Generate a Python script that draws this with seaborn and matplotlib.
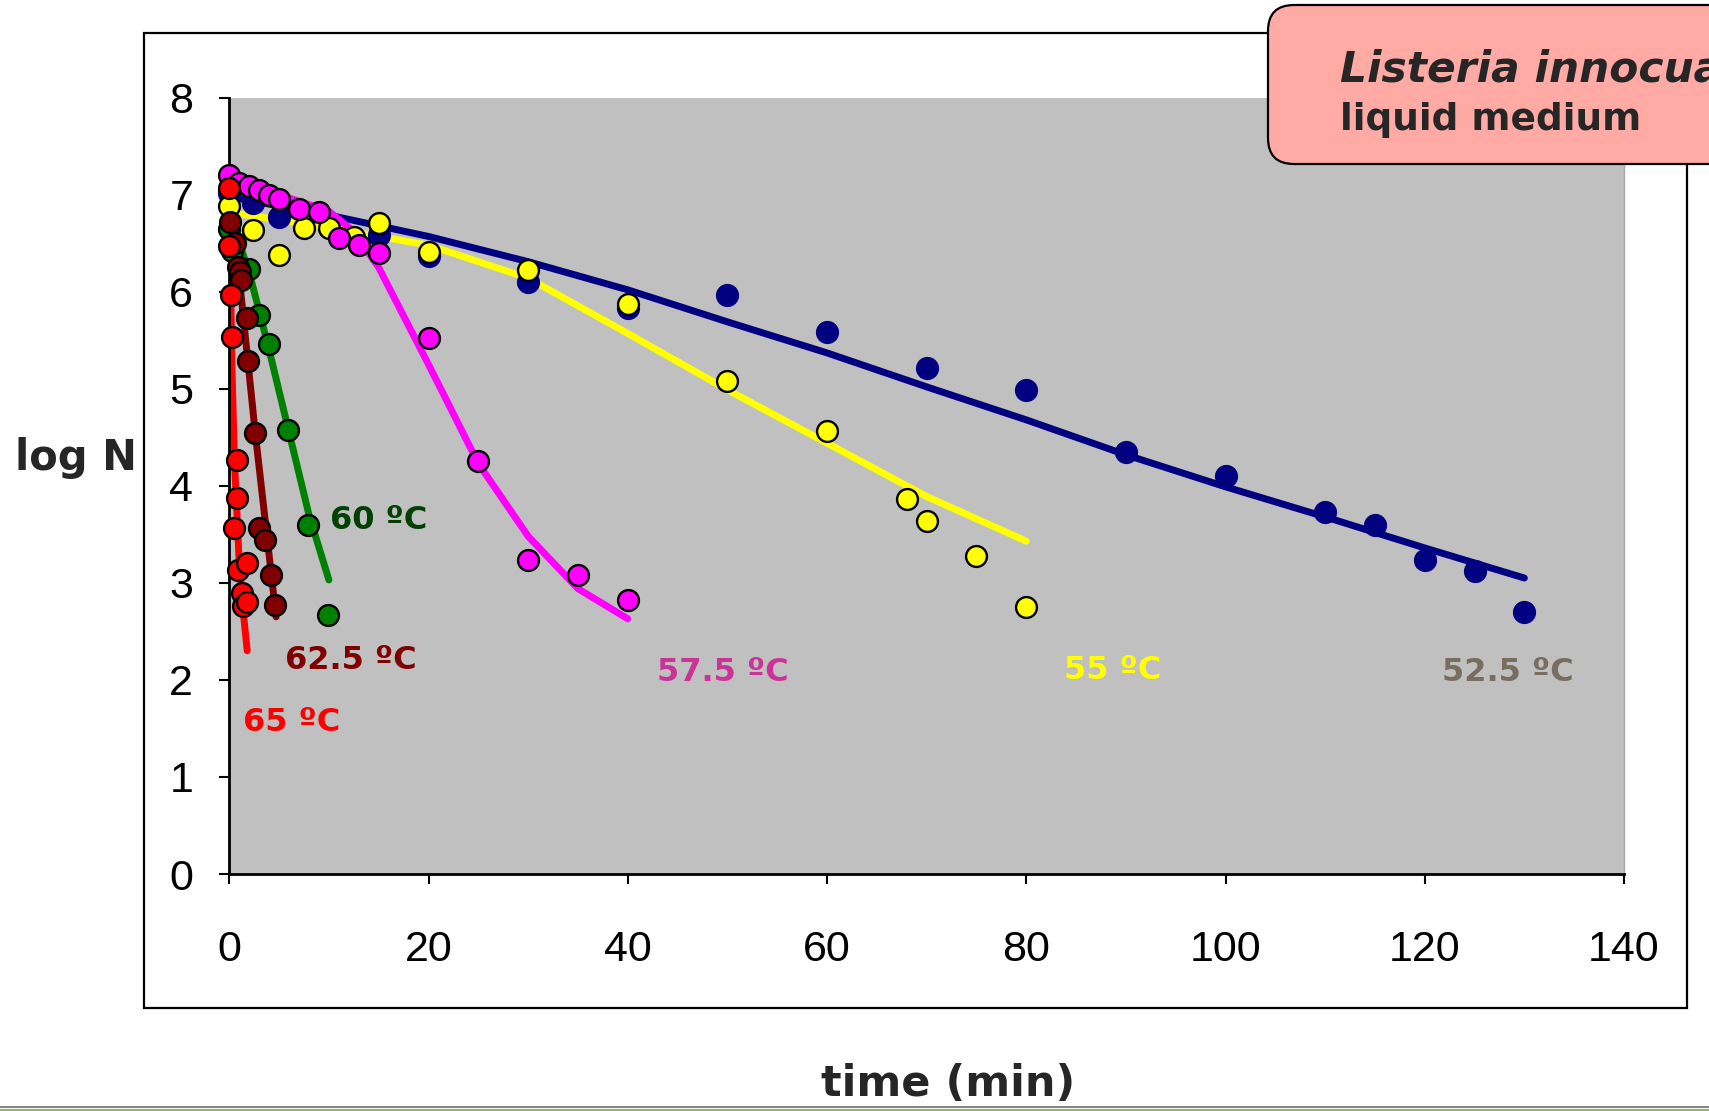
import numpy as np
import pandas as pd
import matplotlib
matplotlib.use("Agg")
import matplotlib.pyplot as plt
import seaborn as sns
from matplotlib.patches import Rectangle, FancyBboxPatch
from matplotlib.lines import Line2D
from matplotlib.transforms import IdentityTransform

# ---------------- data ----------------
# 52.5 C (navy)
t525 = [0, 2.4, 5, 15, 20, 30, 40, 50, 60, 70, 80, 90, 100, 110, 115, 120, 125, 130]
n525 = [7.02, 6.92, 6.77, 6.58, 6.37, 6.10, 5.83, 5.97, 5.59, 5.21, 4.99, 4.35, 4.10, 3.73, 3.60, 3.24, 3.12, 2.70]
fit_t525 = [0, 10, 20, 30, 40, 50, 60, 70, 80, 90, 100, 110, 120, 130]
fit_n525 = [6.98, 6.79, 6.57, 6.31, 6.02, 5.69, 5.37, 5.02, 4.68, 4.32, 3.99, 3.68, 3.36, 3.05]

# 55 C (yellow)
t55 = [0, 2.4, 5, 7.5, 10, 12.5, 15, 20, 30, 40, 50, 60, 68, 70, 75, 80]
n55 = [6.88, 6.64, 6.38, 6.66, 6.66, 6.56, 6.71, 6.41, 6.22, 5.87, 5.08, 4.57, 3.86, 3.64, 3.28, 2.75]
fit_t55 = [0, 10, 20, 30, 40, 50, 60, 70, 80]
fit_n55 = [6.82, 6.66, 6.48, 6.14, 5.57, 4.99, 4.44, 3.89, 3.43]

# 57.5 C (magenta)
t575 = [0, 1, 2, 3, 4, 5, 7, 9, 11, 13, 15, 20, 25, 30, 35, 40]
n575 = [7.20, 7.12, 7.09, 7.05, 7.00, 6.96, 6.85, 6.82, 6.55, 6.48, 6.40, 5.52, 4.26, 3.24, 3.08, 2.82]
fit_t575 = [0, 5, 10, 12.5, 15, 20, 25, 30, 35, 40]
fit_n575 = [7.15, 7.00, 6.83, 6.62, 6.25, 5.25, 4.23, 3.48, 2.94, 2.63]

# 60 C (green)
t60 = [0, 0.3, 2, 3, 4, 5.9, 7.9, 9.9]
n60 = [6.65, 6.42, 6.23, 5.76, 5.46, 4.58, 3.60, 2.67]
fit_t60 = [0, 2, 4, 6, 8, 10]
fit_n60 = [6.80, 6.20, 5.40, 4.55, 3.70, 3.03]

# 62.5 C (dark red)
t625 = [0.1, 0.6, 0.9, 1.1, 1.15, 1.75, 1.9, 2.6, 3.0, 3.6, 4.2, 4.6]
n625 = [6.72, 6.50, 6.26, 6.20, 6.12, 5.73, 5.29, 4.54, 3.57, 3.44, 3.08, 2.77]
fit_t625 = [0, 1.0, 2.6, 4.7]
fit_n625 = [6.85, 6.15, 4.55, 2.65]

# 65 C (red)
t65 = [0, 0, 0.15, 0.3, 0.5, 0.75, 0.75, 0.9, 1.25, 1.4, 1.75, 1.75]
n65 = [7.07, 6.47, 5.97, 5.53, 3.57, 4.27, 3.87, 3.13, 2.90, 2.76, 3.20, 2.80]
fit_t65 = [0, 0.25, 0.5, 1.0, 1.5, 1.8]
fit_n65 = [7.00, 5.30, 4.30, 3.20, 2.60, 2.30]

labels = ["52.5 ºC", "55 ºC", "57.5 ºC", "60 ºC", "62.5 ºC", "65 ºC"]
x_ticks = [0, 20, 40, 60, 80, 100, 120, 140]
y_ticks = [0, 1, 2, 3, 4, 5, 6, 7, 8]

# ---------------- styling ----------------
sns.set_theme(style="white")
plt.rcParams['font.family'] = ['DejaVu Sans']

W, H = 1709, 1111
fig = plt.figure(figsize=(W / 100, H / 100), dpi=100)
ax = fig.add_axes([229.3 / W, 1 - 874 / H, (1624 - 229.3) / W, (874 - 97.7) / H])
ax.set_facecolor('#C0C0C0')

series = [
    (t525, n525, fit_t525, fit_n525, '#000080', '#000080'),
    (t55, n55, fit_t55, fit_n55, '#FFFF00', 'black'),
    (t575, n575, fit_t575, fit_n575, '#FF00FF', 'black'),
    (t60, n60, fit_t60, fit_n60, '#008000', 'black'),
    (t625, n625, fit_t625, fit_n625, '#800000', 'black'),
    (t65, n65, fit_t65, fit_n65, '#FF0000', 'black'),
]

# fitted lines
for i, (tp, npnt, ft, fn, col, ec) in enumerate(series):
    df = pd.DataFrame({"t": ft, "n": fn})
    sns.lineplot(data=df, x="t", y="n", ax=ax, color=col, linewidth=5.0,
                 sort=False, estimator=None, legend=False, zorder=2)

# data points
for i, (tp, npnt, ft, fn, col, ec) in enumerate(series):
    df = pd.DataFrame({"t": tp, "n": npnt})
    sns.scatterplot(data=df, x="t", y="n", ax=ax, color=col, edgecolor=ec,
                    s=225, linewidth=1.7, legend=False, clip_on=False,
                    zorder=3 + i)

ax.set_xlim(0, 140)
ax.set_ylim(0, 8)
ax.set_xticks(x_ticks)
ax.set_yticks(y_ticks)
ax.set_xlabel("")
ax.set_ylabel("")
ax.tick_params(axis='both', bottom=True, left=True, direction='out',
               length=7, width=1.5, colors='black', labelsize=31)
ax.tick_params(axis='x', pad=33)
ax.tick_params(axis='y', pad=19)
for lbl in ax.get_xticklabels() + ax.get_yticklabels():
    lbl.set_fontfamily('Liberation Sans')

ax.spines['top'].set_visible(False)
ax.spines['right'].set_color('#A8A8A8')
ax.spines['right'].set_linewidth(1.0)
for s in ['left', 'bottom']:
    ax.spines[s].set_color('black')
    ax.spines[s].set_linewidth(2.0)

# temperature labels
lab_pos = [(121.7, 2.08, '#776E60'), (83.8, 2.10, '#FFFF00'),
           (42.9, 2.08, '#CC3399'), (10.1, 3.64, '#004000'),
           (5.6, 2.20, '#800000'), (1.4, 1.56, '#FF0000')]
for txt, (lx, ly, lc) in zip(labels, lab_pos):
    ax.text(lx, ly, txt, color=lc, fontsize=23, fontweight='bold',
            ha='left', va='center', zorder=10)

# axis titles
fig.text(15 / W, 1 - 458 / H, "log N", fontsize=30, fontweight='bold',
         ha='left', va='center')
fig.text(948 / W, 1 - 1084 / H, "time (min)", fontsize=31, fontweight='bold',
         ha='center', va='center')

# outer frame
frame = Rectangle((144, H - 1008), 1687 - 144, 1008 - 33, transform=IdentityTransform(),
                  fill=False, edgecolor='black', linewidth=1.6, zorder=0)
fig.add_artist(frame)

# species box
box = FancyBboxPatch((1268, H - 164), 600, 159,
                     boxstyle="round,pad=0,rounding_size=26",
                     transform=IdentityTransform(), facecolor='#FFAAA5',
                     edgecolor='black', linewidth=1.6, zorder=5)
fig.add_artist(box)
fig.text(1340 / W, 1 - 82 / H, "Listeria innocua", fontsize=30.5,
         fontweight='bold', fontstyle='italic', ha='left', va='baseline', zorder=6)
fig.text(1340 / W, 1 - 130 / H, "liquid medium", fontsize=27,
         fontweight='bold', ha='left', va='baseline', zorder=6)

# footer lines
fig.add_artist(Line2D([0, 1], [1 - 1106.5 / H] * 2, transform=fig.transFigure,
                      color='#6E6E6E', linewidth=1.2))
fig.add_artist(Line2D([0, 1], [1 - 1109.5 / H] * 2, transform=fig.transFigure,
                      color='#9BB55A', linewidth=1.6))

fig.savefig("out.png", dpi=100)
